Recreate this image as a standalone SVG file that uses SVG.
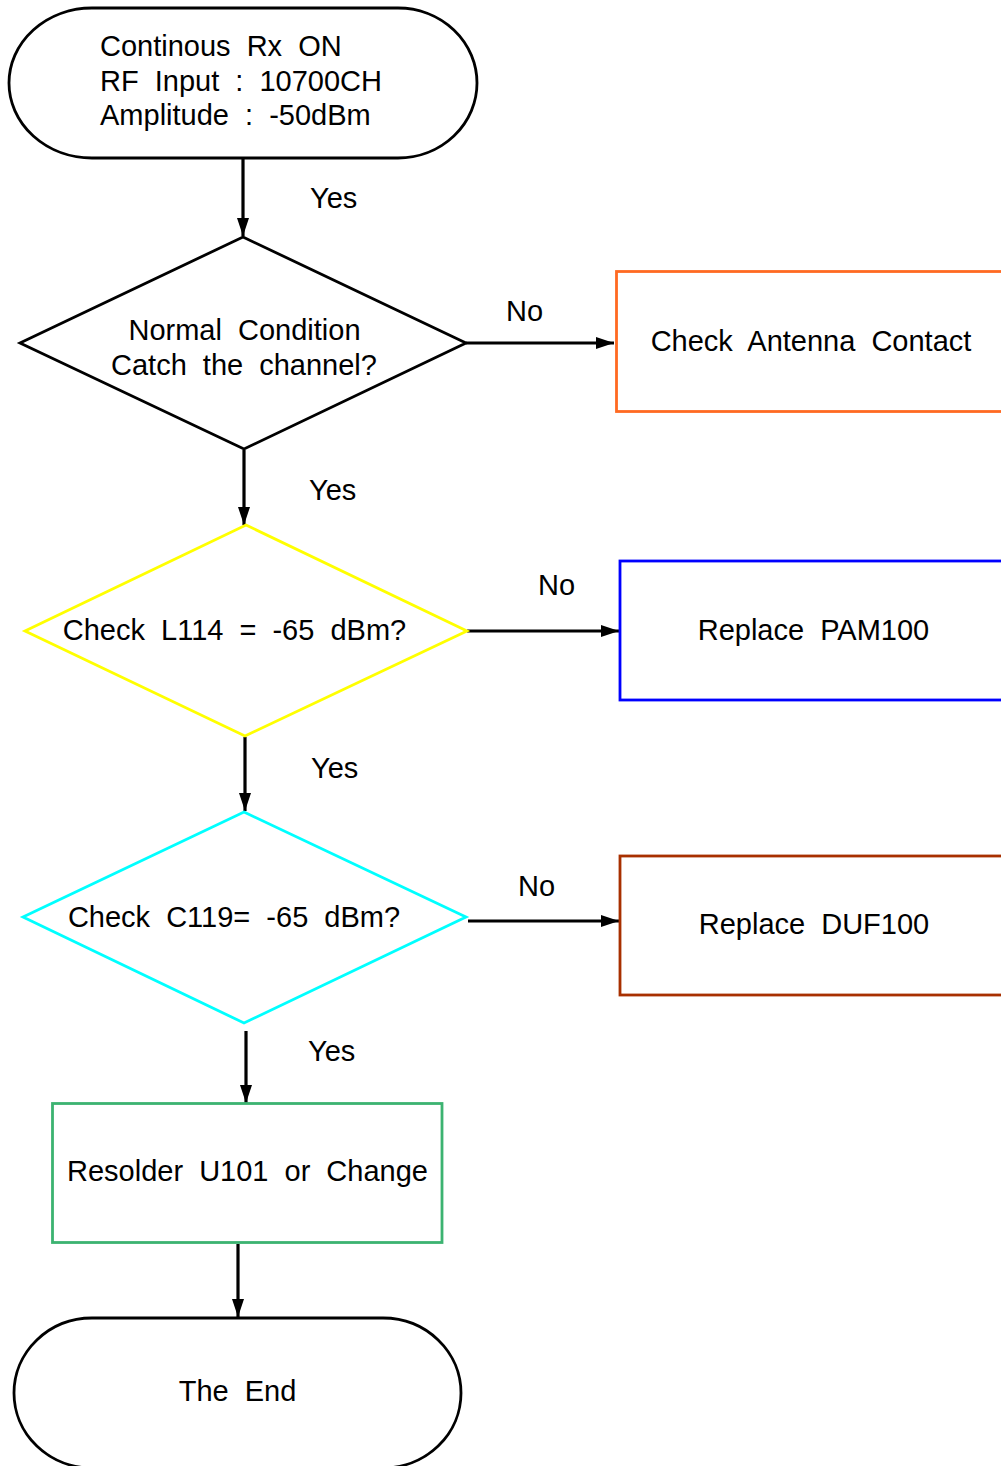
<svg xmlns="http://www.w3.org/2000/svg" width="1001" height="1466" viewBox="0 0 1001 1466">
<defs>
<style>
text{font-family:"Liberation Sans",Arial,sans-serif;font-size:29px;fill:#000;word-spacing:8px}
.c{text-anchor:middle}
.shape{fill:#fff;stroke-width:2.8}
.conn{stroke:#000;stroke-width:3.2;fill:none}
</style>
<marker id="ah" viewBox="0 0 18 12" refX="18" refY="6" markerWidth="18" markerHeight="12" markerUnits="userSpaceOnUse" orient="auto">
<path d="M0,0 L18,6 L0,12 Z" fill="#000"/>
</marker>
</defs>
<rect width="1001" height="1466" fill="#fff"/>

<g id="connectors">
<line class="conn" x1="243" y1="158" x2="243" y2="236" marker-end="url(#ah)"/>
<line class="conn" x1="466" y1="343" x2="614" y2="343" marker-end="url(#ah)"/>
<line class="conn" x1="244" y1="450" x2="244" y2="525" marker-end="url(#ah)"/>
<line class="conn" x1="467" y1="631" x2="619" y2="631" marker-end="url(#ah)"/>
<line class="conn" x1="245" y1="737" x2="245" y2="811" marker-end="url(#ah)"/>
<line class="conn" x1="468" y1="921" x2="619" y2="921" marker-end="url(#ah)"/>
<line class="conn" x1="246" y1="1031" x2="246" y2="1103" marker-end="url(#ah)"/>
<line class="conn" x1="238" y1="1244" x2="238" y2="1317" marker-end="url(#ah)"/>
<text x="310" y="208">Yes</text>
<text x="506" y="321">No</text>
<text x="309" y="500">Yes</text>
<text x="538" y="595">No</text>
<text x="311" y="778">Yes</text>
<text x="518" y="896">No</text>
<text x="308" y="1061">Yes</text>
</g>

<g id="start">
<path class="shape" stroke="#000" d="M92,8 H398 A79,75 0 0 1 398,158 H92 A83,75 0 0 1 92,8 Z"/>
<text x="100" y="56">Continous Rx ON</text>
<text x="100" y="91">RF Input : 10700CH</text>
<text x="100" y="125">Amplitude : -50dBm</text>
</g>

<g id="decision1">
<polygon class="shape" stroke="#000" points="243,237 466,343 244,449 20,343"/>
<text class="c" x="244.5" y="340">Normal Condition</text>
<text class="c" x="244" y="375">Catch the channel?</text>
</g>

<g id="antenna">
<rect class="shape" stroke="#FF6A22" stroke-width="3" x="616.5" y="271.5" width="400" height="140"/>
<text class="c" x="811" y="351">Check Antenna Contact</text>
</g>

<g id="decision2">
<polygon class="shape" stroke="#FFFF00" points="246,525 467,631 245,736 25,631"/>
<text class="c" x="234.5" y="640">Check L114 = -65 dBm?</text>
</g>

<g id="pam">
<rect class="shape" stroke="#0000FF" stroke-width="3" x="620" y="561" width="400" height="139"/>
<text class="c" x="813.5" y="640">Replace PAM100</text>
</g>

<g id="decision3">
<polygon class="shape" stroke="#00FFFF" points="244,812 466,917 244,1023 23,917"/>
<text class="c" x="234" y="927">Check C119= -65 dBm?</text>
</g>

<g id="duf">
<rect class="shape" stroke="#A83000" stroke-width="3" x="620" y="856" width="400" height="139"/>
<text class="c" x="814" y="934">Replace DUF100</text>
</g>

<g id="resolder">
<rect class="shape" stroke="#3CB371" stroke-width="3" x="52.5" y="1103.5" width="389.5" height="139"/>
<text class="c" x="247.5" y="1181">Resolder U101 or Change</text>
</g>

<g id="end">
<path class="shape" stroke="#000" d="M92,1318 H383 A78,75 0 0 1 383,1468 H92 A78,75 0 0 1 92,1318 Z"/>
<text class="c" x="237.5" y="1401">The End</text>
</g>
</svg>
